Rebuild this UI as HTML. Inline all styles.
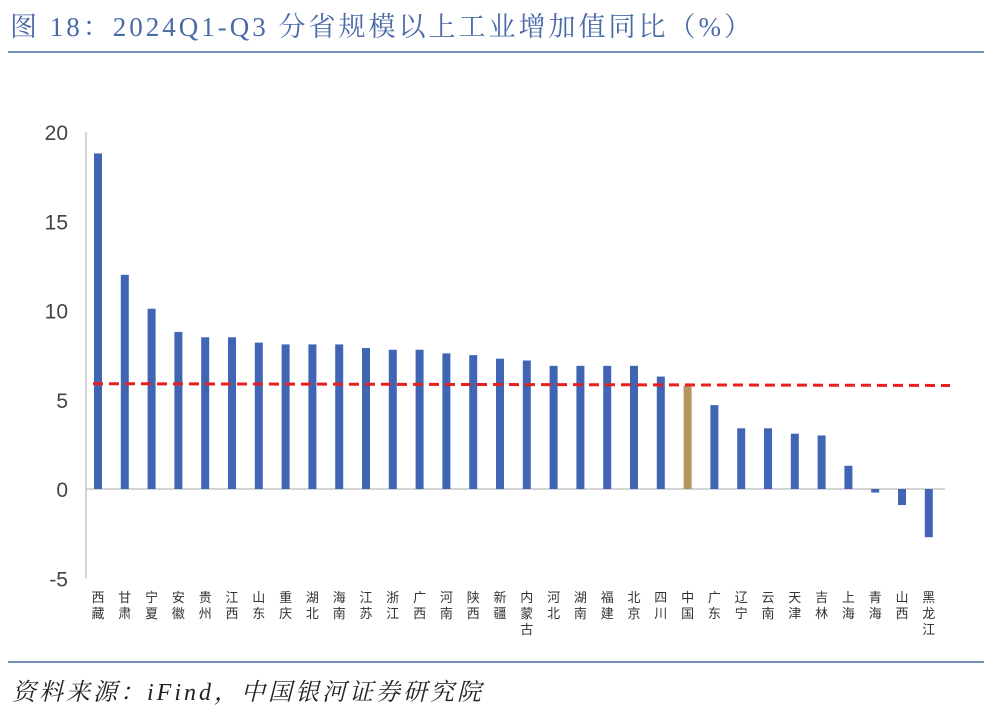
<!DOCTYPE html>
<html><head><meta charset="utf-8">
<style>
body{margin:0;background:#fff;width:1000px;height:714px;overflow:hidden;font-family:"Liberation Serif","Noto Serif CJK SC",serif;}
#title{position:absolute;left:10px;top:5px;font-size:27px;color:#4a6aa8;white-space:nowrap;letter-spacing:3px}
#src{position:absolute;left:12px;top:672px;font-size:24px;font-style:italic;color:#222;white-space:nowrap;letter-spacing:3px}
</style></head><body>
<div id="title">图 18：2024Q1-Q3 分省规模以上工业增加值同比（%）</div>
<svg id="chart" width="1000" height="714" style="position:absolute;left:0;top:0">
<line x1="8" y1="52" x2="984" y2="52" stroke="#4a6aa8" stroke-width="1.5"/>
<line x1="8" y1="662" x2="984" y2="662" stroke="#4a6aa8" stroke-width="1.5"/>
<g id="g"></g>
</svg>
<div id="src">资料来源：iFind，中国银河证券研究院</div>
<script>
const categories=["西藏","甘肃","宁夏","安徽","贵州","江西","山东","重庆","湖北","海南","江苏","浙江","广西","河南","陕西","新疆","内蒙古","河北","湖南","福建","北京","四川","中国","广东","辽宁","云南","天津","吉林","上海","青海","山西","黑龙江"];
const values=[18.8,12.0,10.1,8.8,8.5,8.5,8.2,8.1,8.1,8.1,7.9,7.8,7.8,7.6,7.5,7.3,7.2,6.9,6.9,6.9,6.9,6.3,5.8,4.7,3.4,3.4,3.1,3.0,1.3,-0.2,-0.9,-2.7];
const yTicks=[-5,0,5,10,15,20];
const refLine=[5.9,5.8];
const NS="http://www.w3.org/2000/svg";
const g=document.getElementById('g');
const y0=489,ppu=17.85;
const y=v=>y0-v*ppu;
const x=i=>98+i*26.8;
function mk(t,a){const e=document.createElementNS(NS,t);for(const k in a)e.setAttribute(k,a[k]);g.appendChild(e);return e;}
const ax=mk('line',{x1:86,x2:86,y1:y(20),y2:y(-5),stroke:'#bbb','stroke-width':1.2});


const zx=mk('line',{x1:86,x2:945,y1:y0,y2:y0,stroke:'#bbb','stroke-width':1.2});


yTicks.forEach(t=>{const e=mk('text',{x:68,y:y(t)+8,'text-anchor':'end','font-size':21,fill:'#444','font-family':'Liberation Sans, sans-serif'});e.textContent=t;

});
categories.forEach((c,i)=>{const v=values[i];
const r=mk('rect',{x:x(i)-4,width:8,y:Math.min(y(v),y0),height:Math.abs(y(v)-y0),fill:c==="中国"?"#b8955e":"#3f65b4"});


[...c].forEach((ch,j)=>{const t=mk('text',{x:x(i),y:602+j*16,'text-anchor':'middle','font-size':13,fill:'#333','font-family':'Noto Sans CJK SC, sans-serif'});t.textContent=ch;

});
});
const d=mk('line',{x1:93,x2:950,y1:y(refLine[0]),y2:y(refLine[1]),stroke:'#e8201c','stroke-width':3,'stroke-dasharray':'10,6'});


</script>
</body></html>
